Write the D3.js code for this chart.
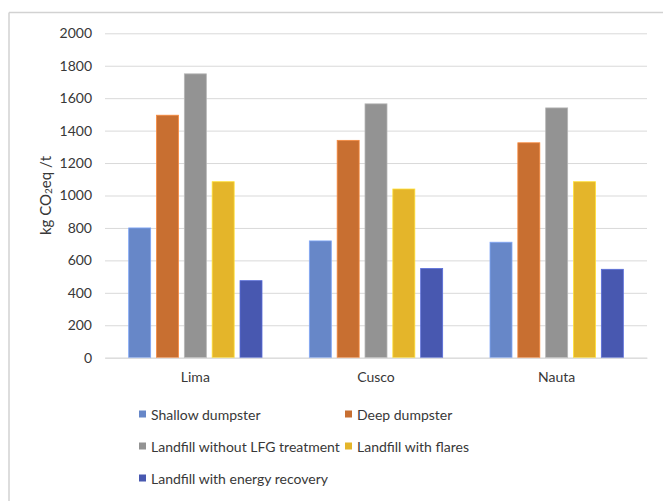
<!DOCTYPE html>
<html>
<head>
<meta charset="utf-8">
<script src="https://cdn.jsdelivr.net/npm/d3@7"></script>
<style>
  html, body { margin: 0; padding: 0; background: #fff; }
  svg { display: block; font-family: Lato, "Open Sans", sans-serif; }
</style>
</head>
<body>
<svg id="chart" width="663" height="501"></svg>
<script>
// Emissions per tonne of waste, by city and disposal scenario
const cities = ["Lima", "Cusco", "Nauta"];
const scenarios = [
  "Shallow dumpster",
  "Deep dumpster",
  "Landfill without LFG treatment",
  "Landfill with flares",
  "Landfill with energy recovery"
];
const shallowDumpster   = [800, 720, 712];
const deepDumpster      = [1495, 1340, 1325];
const landfillNoLFG     = [1750, 1565, 1540];
const landfillFlares    = [1085, 1040, 1085];
const landfillEnergy    = [475, 550, 545];
const yTicks = [0, 200, 400, 600, 800, 1000, 1200, 1400, 1600, 1800, 2000];
const colors = ["#6787c8", "#c86f31", "#939393", "#e4b52a", "#4858b0"];

const seriesValues = [shallowDumpster, deepDumpster, landfillNoLFG, landfillFlares, landfillEnergy];

const svg = d3.select("#chart");
const W = 663, H = 501;
const textColor = "#383838";

// Outer frame (top and left edges visible)
svg.append("line").attr("x1", 9).attr("x2", W).attr("y1", 12.5).attr("y2", 12.5)
  .attr("stroke", "#d2d2d2").attr("stroke-width", 1.5);
svg.append("line").attr("x1", 9).attr("x2", 9).attr("y1", 12.5).attr("y2", H)
  .attr("stroke", "#d2d2d2").attr("stroke-width", 1.5);

const plot = { left: 105, right: 647, top: 33.3, bottom: 357.7 };

const y = d3.scaleLinear().domain([0, 2000]).range([plot.bottom, plot.top]);
const x0 = d3.scaleBand().domain(cities).range([plot.left, plot.right])
  .paddingInner(0.262).paddingOuter(0.131);
const x1 = d3.scaleBand().domain(scenarios).range([0, x0.bandwidth()])
  .paddingInner(0.21).paddingOuter(0);

// Gridlines and y tick labels
const yAxis = d3.axisLeft(y).tickValues(yTicks).tickFormat(d3.format("d"))
  .tickSize(-(plot.right - plot.left)).tickPadding(13);
const gy = svg.append("g").attr("transform", `translate(${plot.left},0)`).call(yAxis);
gy.select(".domain").remove();
gy.selectAll(".tick line").attr("stroke", "#d9d9d9").attr("stroke-width", 1);
gy.selectAll(".tick text").attr("fill", textColor).attr("font-size", 14)
  .attr("font-family", "Lato, sans-serif");

// Bars
const groups = svg.append("g").selectAll("g").data(cities).join("g")
  .attr("transform", d => `translate(${x0(d)},0)`);
groups.selectAll("rect")
  .data((c, ci) => scenarios.map((s, si) => ({ s, si, v: seriesValues[si][ci] })))
  .join("rect")
  .attr("x", d => x1(d.s))
  .attr("width", x1.bandwidth())
  .attr("y", d => y(d.v))
  .attr("height", d => y(0) - y(d.v))
  .attr("fill", d => colors[d.si])
  .attr("stroke", d => d3.color(colors[d.si]).brighter(0.6))
  .attr("stroke-width", 0.8);

// Category axis
const xAxis = d3.axisBottom(x0).tickSize(0).tickPadding(14);
const gx = svg.append("g").attr("transform", `translate(0,${plot.bottom})`).call(xAxis);
gx.select(".domain").attr("stroke", "#d9d9d9");
gx.selectAll(".tick text").attr("fill", textColor).attr("font-size", 14)
  .attr("font-family", "Lato, sans-serif");

// Y axis title
const yt = svg.append("text")
  .attr("transform", `translate(45,${(plot.top + plot.bottom) / 2}) rotate(-90)`)
  .attr("text-anchor", "middle").attr("dominant-baseline", "central")
  .attr("fill", textColor).attr("font-size", 15);
yt.append("tspan").text("kg CO");
yt.append("tspan").attr("font-size", 10).attr("dy", 3).text("2");
yt.append("tspan").attr("dy", -3).text("eq /t");

// Legend
const legendPos = [
  [139, 414], [345, 414],
  [139, 446], [345, 446],
  [139, 478]
];
const legend = svg.append("g").selectAll("g").data(scenarios).join("g")
  .attr("transform", (d, i) => `translate(${legendPos[i][0]},${legendPos[i][1]})`);
legend.append("rect").attr("x", 0).attr("y", -3.5).attr("width", 7).attr("height", 7)
  .attr("fill", (d, i) => colors[i]);
legend.append("text").attr("x", 12).attr("y", 0).attr("dominant-baseline", "central")
  .attr("fill", textColor).attr("font-size", 14).text(d => d);
</script>
</body>
</html>
